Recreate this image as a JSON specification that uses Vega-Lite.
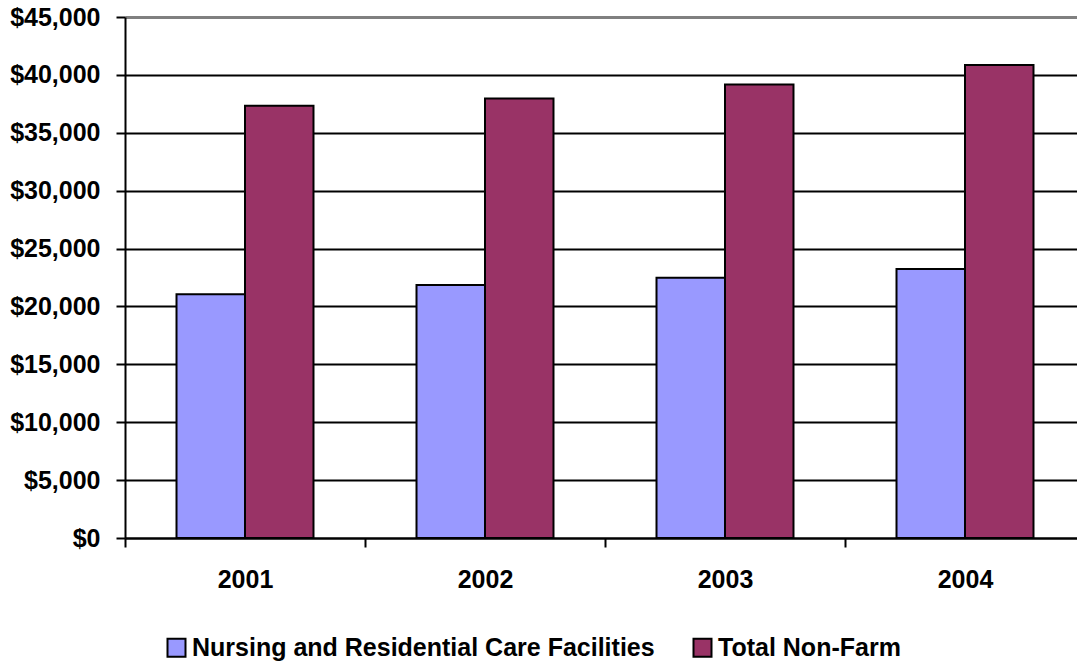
{
  "$schema": "https://vega.github.io/schema/vega-lite/v6.json",
  "width": 960,
  "height": 521,
  "autosize": {"type": "none"},
  "padding": {"left": 125, "top": 17, "right": -8, "bottom": 125},
  "background": "white",
  "config": {
    "view": {"stroke": null},
    "font": "Liberation Sans"
  },
  "data": {
    "values": [
      {"year": "2001", "series": "Nursing and Residential Care Facilities", "wage": 21050},
      {"year": "2001", "series": "Total Non-Farm", "wage": 37330},
      {"year": "2002", "series": "Nursing and Residential Care Facilities", "wage": 21850},
      {"year": "2002", "series": "Total Non-Farm", "wage": 37970},
      {"year": "2003", "series": "Nursing and Residential Care Facilities", "wage": 22480},
      {"year": "2003", "series": "Total Non-Farm", "wage": 39180},
      {"year": "2004", "series": "Nursing and Residential Care Facilities", "wage": 23230},
      {"year": "2004", "series": "Total Non-Farm", "wage": 40850}
    ]
  },
  "mark": {"type": "bar", "stroke": "black", "strokeWidth": 2},
  "encoding": {
    "x": {
      "field": "year",
      "type": "nominal",
      "scale": {"paddingInner": 0, "paddingOuter": 0},
      "axis": {
        "title": null,
        "labelAngle": 0,
        "tickBand": "extent",
        "grid": false,
        "domainColor": "black",
        "domainWidth": 2,
        "tickColor": "black",
        "tickWidth": 2,
        "tickSize": 9,
        "labelFont": "Liberation Sans",
        "labelFontWeight": "bold",
        "labelFontSize": 25,
        "labelColor": "black",
        "labelPadding": 20
      }
    },
    "xOffset": {
      "field": "series",
      "type": "nominal",
      "scale": {
        "domain": ["Nursing and Residential Care Facilities", "Total Non-Farm"],
        "paddingInner": 0,
        "paddingOuter": 0.752
      }
    },
    "y": {
      "field": "wage",
      "type": "quantitative",
      "scale": {"domain": [0, 45000], "nice": false},
      "axis": {
        "title": null,
        "values": [0, 5000, 10000, 15000, 20000, 25000, 30000, 35000, 40000, 45000],
        "format": "$,.0f",
        "grid": true,
        "gridColor": {"condition": {"test": "datum.value === 45000", "value": "#808080"}, "value": "black"},
        "gridWidth": {"condition": {"test": "datum.value === 45000", "value": 3}, "value": 2},
        "gridOpacity": 1,
        "domainColor": "black",
        "domainWidth": 2,
        "tickColor": "black",
        "tickWidth": 2,
        "tickSize": 9,
        "labelFont": "Liberation Sans",
        "labelFontWeight": "bold",
        "labelFontSize": 25,
        "labelColor": "black",
        "labelPadding": 16
      }
    },
    "color": {
      "field": "series",
      "type": "nominal",
      "scale": {
        "domain": ["Nursing and Residential Care Facilities", "Total Non-Farm"],
        "range": ["#9999FF", "#993366"]
      },
      "legend": {
        "title": null,
        "orient": "none",
        "legendX": 39,
        "legendY": 618,
        "direction": "horizontal",
        "symbolType": "square",
        "symbolSize": 324,
        "symbolStrokeColor": "black",
        "symbolStrokeWidth": 2,
        "symbolOpacity": 1,
        "labelFont": "Liberation Sans",
        "labelFontWeight": "bold",
        "labelFontSize": 25,
        "labelColor": "black",
        "labelOffset": 3,
        "labelLimit": 0,
        "columnPadding": 34
      }
    }
  }
}
